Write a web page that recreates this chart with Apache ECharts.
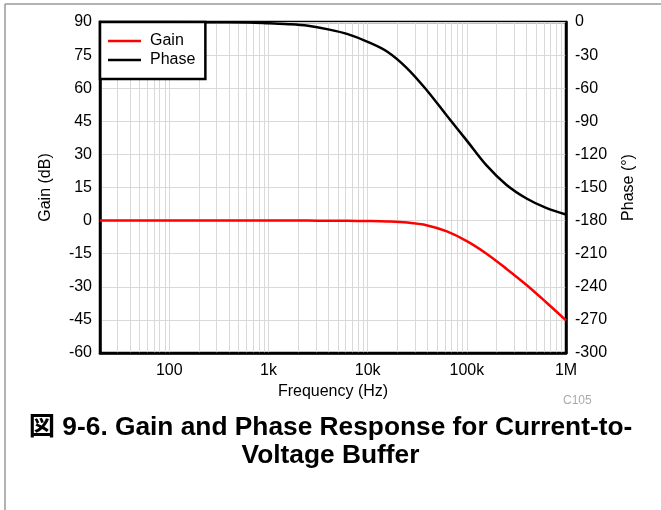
<!DOCTYPE html>
<html>
<head>
<meta charset="utf-8">
<script src="https://cdn.jsdelivr.net/npm/echarts@6/dist/echarts.min.js"></script>
<style>
html,body{margin:0;padding:0;background:#fff;}
#chart{width:661px;height:510px;}
</style>
</head>
<body>
<div id="chart"></div>
<script>
// ---- data ----
const freqs = [20, 100, 300, 630, 1000, 1580, 2500, 4000, 6300, 10000, 15800, 25000, 40000, 63000, 100000, 158000, 250000, 400000, 630000, 1000000];
const gainDb = [0, 0, 0, 0, 0, 0, 0, -0.05, -0.1, -0.2, -0.4, -0.9, -2.2, -4.9, -9.3, -15.0, -21.8, -29.2, -37.0, -45.2];
const phaseDeg = [0, -0.1, -0.3, -0.5, -1.2, -2.0, -3.5, -6.7, -11, -18, -27, -42, -62.5, -85, -107.5, -130, -147.5, -160, -168.5, -174.5];
const xTickLabels = {2: '100', 3: '1k', 4: '10k', 5: '100k', 6: '1M'};
const gainTicks = {min: -60, max: 90, interval: 15};
const phaseTicks = {min: -300, max: 0, interval: 30};
const seriesNames = ['Gain', 'Phase'];
const titleText = '図 9-6. Gain and Phase Response for Current-to-\nVoltage Buffer';

// vertical grid lines at 1..9 x decade
const gridFreqs = [];
for (let d = 10; d <= 100000; d *= 10) {
  for (let k = 1; k <= 9; k++) {
    const f = k * d;
    if (f > 20 && f < 1000000) gridFreqs.push(f);
  }
}

const FONT = "'Liberation Sans', Arial, 'Noto Sans CJK JP', sans-serif";
const chart = echarts.init(document.getElementById('chart'), null, {renderer: 'canvas'});

chart.setOption({
  animation: false,
  backgroundColor: '#fff',
  textStyle: {fontFamily: FONT},
  title: {
    text: titleText,
    left: 'center',
    top: 414,
    padding: 0,
    textStyle: {fontFamily: FONT, fontSize: 26.3, fontWeight: 'bold', color: '#000', lineHeight: 28}
  },
  grid: {left: 100, right: 95, top: 22, bottom: 157, show: true, borderColor: '#000', borderWidth: 2.5, backgroundColor: 'transparent'},
  legend: {
    data: seriesNames,
    orient: 'vertical',
    left: 100,
    top: 22,
    padding: [11, 10, 11, 8],
    itemGap: 3,
    itemWidth: 33,
    itemHeight: 2.5,
    icon: 'rect',
    backgroundColor: '#fff',
    borderColor: '#000',
    borderWidth: 2.5,
    borderRadius: 0,
    z: 10,
    textStyle: {fontFamily: FONT, fontSize: 16, color: '#000', lineHeight: 16, padding: [0, 0, 0, 4]}
  },
  xAxis: {
    type: 'log',
    logBase: 10,
    min: 20,
    max: 1000000,
    name: 'Frequency (Hz)',
    nameLocation: 'middle',
    nameGap: 31,
    nameTextStyle: {fontFamily: FONT, fontSize: 16, color: '#000'},
    axisLine: {show: true, onZero: false, lineStyle: {color: '#000', width: 2.5}},
    axisTick: {show: false},
    splitLine: {show: false},
    axisLabel: {
      fontFamily: FONT, fontSize: 16, color: '#000', margin: 10,
      formatter: function (v) {
        const e = Math.log10(v);
        const r = Math.round(e);
        if (Math.abs(e - r) < 1e-6 && xTickLabels[r]) return xTickLabels[r];
        return '';
      }
    }
  },
  yAxis: [
    {
      type: 'value',
      min: gainTicks.min, max: gainTicks.max, interval: gainTicks.interval,
      name: 'Gain (dB)',
      nameLocation: 'middle',
      nameGap: 46,
      nameTextStyle: {fontFamily: FONT, fontSize: 16, color: '#000'},
      axisLine: {show: true, onZero: false, lineStyle: {color: '#000', width: 2.5}},
      axisTick: {show: false},
      splitLine: {show: true, lineStyle: {color: '#d9d9d9', width: 1}},
      axisLabel: {fontFamily: FONT, fontSize: 16, color: '#000', margin: 8}
    },
    {
      type: 'value',
      position: 'right',
      min: phaseTicks.min, max: phaseTicks.max, interval: phaseTicks.interval,
      name: 'Phase (°)',
      nameLocation: 'middle',
      nameGap: 55,
      nameTextStyle: {fontFamily: FONT, fontSize: 16, color: '#000'},
      axisLine: {show: true, onZero: false, lineStyle: {color: '#000', width: 2.5}},
      axisTick: {show: false},
      splitLine: {show: false},
      axisLabel: {fontFamily: FONT, fontSize: 16, color: '#000', margin: 9}
    }
  ],
  graphic: [
    {type: 'line', shape: {x1: 5, y1: 4, x2: 661, y2: 4}, style: {stroke: '#999', lineWidth: 1.5}, silent: true},
    {type: 'line', shape: {x1: 5, y1: 4, x2: 5, y2: 510}, style: {stroke: '#999', lineWidth: 1.5}, silent: true},
    {type: 'text', left: 563, top: 395, style: {text: 'C105', fontFamily: FONT, fontSize: 12, fill: '#aaa'}, silent: true}
  ],
  series: [
    {
      name: 'grid',
      type: 'line',
      data: [],
      z: 0,
      silent: true,
      markLine: {
        silent: true,
        z: 0,
        symbol: ['none', 'none'],
        label: {show: false},
        lineStyle: {color: '#d9d9d9', width: 1, type: 'solid'},
        emphasis: {disabled: true},
        data: gridFreqs.map(f => ({xAxis: f}))
      }
    },
    {
      name: 'Gain',
      type: 'line',
      yAxisIndex: 0,
      data: freqs.map((f, i) => [f, gainDb[i]]),
      showSymbol: false,
      smooth: 0.35,
      lineStyle: {color: '#ff0000', width: 2.5},
      itemStyle: {color: '#ff0000'},
      z: 3
    },
    {
      name: 'Phase',
      type: 'line',
      yAxisIndex: 1,
      data: freqs.map((f, i) => [f, phaseDeg[i]]),
      showSymbol: false,
      smooth: 0.35,
      lineStyle: {color: '#000', width: 2.5},
      itemStyle: {color: '#000'},
      z: 3
    }
  ]
});
</script>
</body>
</html>
